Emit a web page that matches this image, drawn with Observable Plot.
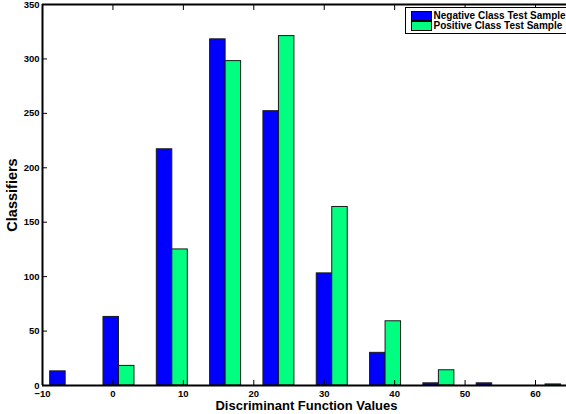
<!DOCTYPE html>
<html>
<head>
<meta charset="utf-8">
<script src="https://cdn.jsdelivr.net/npm/d3@7"></script>
<script src="https://cdn.jsdelivr.net/npm/@observablehq/plot@0.6"></script>
<style>
  html, body { margin: 0; padding: 0; background: #fff; }
  #wrap { position: relative; width: 566px; height: 414px; overflow: hidden; font-family: "Liberation Sans", Arial, sans-serif; }
  #legend { position: absolute; left: 405px; top: 7px; width: 180px; height: 25px; border: 1px solid #000; background: #fff; }
  .sw { position: absolute; left: 5px; width: 19px; border: 1px solid #000; }
  .lt { position: absolute; left: 27.5px; font-size: 10px; line-height: 10px; font-weight: bold; white-space: nowrap; color: #000; }
</style>
</head>
<body>
<div id="wrap"></div>
<script>
// ---- data ----
const binCenters = [-6.71, 0.86, 8.43, 16.0, 23.57, 31.14, 38.71, 46.28, 53.85, 61.42];
const negativeCounts = [13, 63, 217, 318, 252, 103, 30, 2, 2, 0];
const positiveCounts = [0, 18, 125, 298, 321, 164, 59, 14, 0, 1];
const seriesNames = ["Negative Class Test Sample", "Positive Class Test Sample"];
const xTicks = [-10, 0, 10, 20, 30, 40, 50, 60];
const yTicks = [0, 50, 100, 150, 200, 250, 300, 350];
const xTitle = "Discriminant Function Values";
const yTitle = "Classifiers";

const colors = ["#0000ff", "#00ff80"];
const barW = 2.2; // width of one bar in x units

const rows = binCenters.map((c, i) => ({center: c, neg: negativeCounts[i], pos: positiveCounts[i]}));

const chart = Plot.plot({
  width: 566,
  height: 414,
  marginLeft: 42,
  marginRight: 0,
  marginTop: 4,
  marginBottom: 29,
  style: {fontFamily: "'Liberation Sans', Arial, sans-serif", fontSize: "9.5px", fontWeight: "bold", background: "#fff", color: "#000"},
  x: {domain: [-10, 64.4]},
  y: {domain: [0, 350]},
  marks: [
    Plot.rectY(rows, {x1: d => d.center - barW, x2: d => d.center, y: "neg", fill: colors[0], stroke: "#1a1a1a", strokeWidth: 1}),
    Plot.rectY(rows, {x1: d => d.center, x2: d => d.center + barW, y: "pos", fill: colors[1], stroke: "#1a1a1a", strokeWidth: 1}),
    Plot.axisY({ticks: yTicks, tickSize: -5, tickPadding: 8, label: null, tickFormat: d => String(d)}),
    Plot.axisX({anchor: "bottom", ticks: xTicks, tickSize: -5, tickPadding: 9.5, label: null}),
    Plot.axisX({anchor: "top", ticks: xTicks, tickSize: -5, label: null, tickFormat: () => ""}),
    Plot.ruleX([-10], {strokeWidth: 2}),
    Plot.ruleY([0], {strokeWidth: 2}),
    Plot.ruleY([350], {strokeWidth: 2}),
    Plot.text([xTitle], {frameAnchor: "bottom", lineAnchor: "middle", textAnchor: "middle", dy: 20, dx: 2, fontSize: 13, fontWeight: "bold"}),
    Plot.text([yTitle], {frameAnchor: "left", rotate: -90, textAnchor: "middle", lineAnchor: "middle", dx: -30, fontSize: 14.5, fontWeight: "bold"})
  ]
});

const wrap = document.getElementById("wrap");
wrap.appendChild(chart);

const legend = document.createElement("div");
legend.id = "legend";
const swTops = [2.5, 12.5];
const txtTops = [2.5, 13];
seriesNames.forEach((name, i) => {
  const sw = document.createElement("div");
  sw.className = "sw";
  sw.style.top = swTops[i] + "px";
  sw.style.height = "8px";
  sw.style.background = colors[i];
  legend.appendChild(sw);
  const t = document.createElement("div");
  t.className = "lt";
  t.style.top = txtTops[i] + "px";
  t.textContent = name;
  legend.appendChild(t);
});
wrap.appendChild(legend);
</script>
</body>
</html>
